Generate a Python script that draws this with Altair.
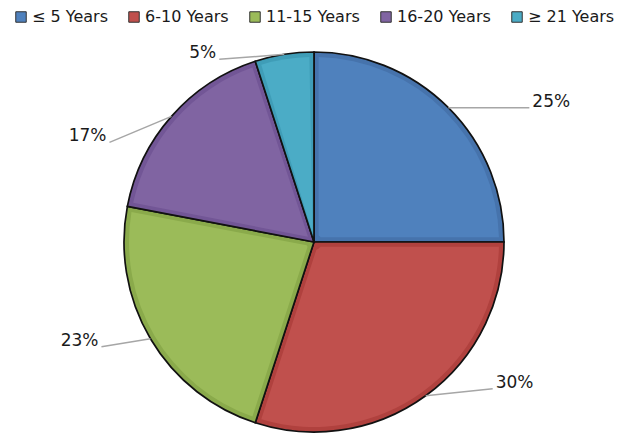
import altair as alt
import pandas as pd

# Share of staff by years of service
categories = ["≤ 5 Years", "6-10 Years", "11-15 Years", "16-20 Years", "≥ 21 Years"]
shares = [25, 30, 23, 17, 5]
labels = ["25%", "30%", "23%", "17%", "5%"]

# Slice fills and the slightly darker rim shade
fill_colors = ["#4F81BD", "#C0504D", "#9BBB59", "#8064A2", "#4BACC6"]
rim_colors = ["#4673AC", "#B0413E", "#8AAA4B", "#725696", "#3F9DB7"]

# Leader-line offsets from the slice edge to each label (px)
leader_dx = [81, 67, -49, -62, -65]
leader_dy = [0, -7, 8, 26, 5]

W, H = 633, 434
CX, CY, R = 314, 242, 190
FONT = "DejaVu Sans"

df = pd.DataFrame({
    "category": categories,
    "share": shares,
    "label": labels,
    "order": list(range(len(categories))),
    "rim": rim_colors,
    "ldx": leader_dx,
    "ldy": leader_dy,
})

theta = alt.Theta("share:Q", stack=True)
order = alt.Order("order:Q")
xs = alt.Scale(domain=[0, W], range=[0, W])
ys = alt.Scale(domain=[0, H], range=[0, H])

base = alt.Chart(df).mark_arc(radius=R, stroke="#111111", strokeWidth=1.7).encode(
    theta=theta,
    order=order,
    fill=alt.Fill("rim:N", scale=None),
    x=alt.value(CX),
    y=alt.value(CY),
)

top = alt.Chart(df).mark_arc(radius=R - 5, radius2=8, padAngle=0.05).encode(
    theta=theta,
    order=order,
    color=alt.Color(
        "category:N",
        scale=alt.Scale(domain=categories, range=fill_colors),
        legend=alt.Legend(
            orient="none",
            legendX=13,
            legendY=9,
            direction="horizontal",
            columns=5,
            title=None,
            symbolType="square",
            symbolSize=110,
            symbolStrokeColor="#333333",
            symbolStrokeWidth=1,
            labelFont=FONT,
            labelFontSize=16,
            labelColor="#1a1a1a",
            labelOffset=3,
            columnPadding=18,
            labelLimit=0,
            padding=0,
        ),
    ),
    x=alt.value(CX),
    y=alt.value(CY),
)

geo = (
    alt.Chart(df)
    .transform_joinaggregate(total="sum(share)")
    .transform_window(cum="sum(share)", sort=[alt.SortField("order")], frame=[None, 0])
    .transform_calculate(
        mid="(datum.cum - datum.share / 2) / datum.total * 2 * PI",
        ex=f"{CX} + {R} * sin(datum.mid)",
        ey=f"{CY} - {R} * cos(datum.mid)",
        lx="datum.ex + datum.ldx",
        ly="datum.ey + datum.ldy",
        tx="datum.lx + (datum.ldx > 0 ? 3 : -3)",
        ty="datum.ly - 6",
    )
)

leaders = geo.mark_rule(color="#A6A6A6", strokeWidth=1.5).encode(
    x=alt.X("ex:Q", scale=xs, axis=None),
    y=alt.Y("ey:Q", scale=ys, axis=None),
    x2="lx:Q",
    y2="ly:Q",
)

text_right = geo.transform_filter("datum.ldx > 0").mark_text(
    align="left", baseline="middle", font=FONT, fontSize=17, color="#1a1a1a"
).encode(
    x=alt.X("tx:Q", scale=xs, axis=None),
    y=alt.Y("ty:Q", scale=ys, axis=None),
    text="label:N",
)

text_left = geo.transform_filter("datum.ldx < 0").mark_text(
    align="right", baseline="middle", font=FONT, fontSize=17, color="#1a1a1a"
).encode(
    x=alt.X("tx:Q", scale=xs, axis=None),
    y=alt.Y("ty:Q", scale=ys, axis=None),
    text="label:N",
)

chart = (
    alt.layer(base, top, leaders, text_right, text_left)
    .properties(width=W, height=H, padding=0, autosize=alt.AutoSizeParams(type="none"))
    .configure_view(stroke=None)
)

chart.save("out.html", embed_options={"renderer": "svg", "actions": False})
